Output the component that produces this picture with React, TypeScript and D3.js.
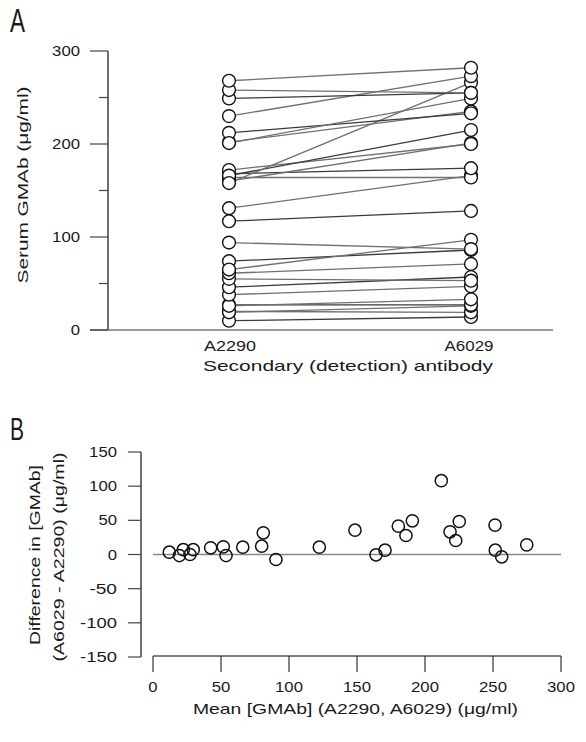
import React from "react";
import * as d3 from "d3";

// Panel A: paired serum GMAb values (µg/ml) measured with two secondary antibodies
const subjects = d3.range(27);
const a2290 = [10, 20, 19, 27, 26, 38, 46, 55, 61, 74, 65, 94, 117, 131, 164, 168, 160, 172, 166, 158, 202, 212, 201, 230, 249, 258, 268];
const a6029 = [14, 19, 26, 27, 33, 47, 57, 53, 71, 86, 97, 87, 128, 166, 164, 174, 201, 200, 215, 266, 235, 233, 249, 273, 255, 255, 282];
const groupLabels = ["A2290", "A6029"];
const yTicksA = [0, 100, 200, 300];
const yMinorA = [50, 150, 250];

// Panel B: Bland-Altman style (mean vs difference)
const meanB = [12, 19.4, 22.3, 27.2, 29.6, 42.4, 51.7, 53.7, 66, 79.9, 81.1, 90.4, 122.3, 148.5, 164, 170.6, 180.4, 186, 190.7, 212, 218.4, 222.6, 225.2, 251.5, 251.7, 256.4, 274.8];
const diffB = [3.4, -1.5, 7, 0, 7, 9.8, 11.2, -1.5, 10.7, 12.2, 31.7, -7.3, 10.7, 35.6, -0.5, 6.3, 41.5, 27.8, 49.3, 108, 33.2, 20.5, 48.3, 43, 6.3, -3.4, 14.1];
const yTicksB = [150, 100, 50, 0, -50, -100, -150];
const xTicksB = [0, 50, 100, 150, 200, 250, 300];

const FONT = "'Liberation Sans', Arial, sans-serif";

const labelWidth = (s: string) =>
  s.split("").reduce((acc, c) => acc + (c === "-" ? 9 : 9.3), 0);

function HText(props: { x: number; y: number; len: number; anchor?: "start" | "middle" | "end"; size?: number; children: string; fill?: string }) {
  const { x, y, len, anchor = "start", size = 14, children, fill = "#1a1a1a" } = props;
  const x0 = anchor === "middle" ? x - len / 2 : anchor === "end" ? x - len : x;
  return (
    <text x={x0} y={y} textLength={len} lengthAdjust="spacingAndGlyphs" fontSize={size} fontFamily={FONT} fill={fill}>
      {children}
    </text>
  );
}

function VText(props: { cx: number; cy: number; len: number; size?: number; children: string }) {
  const { cx, cy, len, size = 14, children } = props;
  return (
    <text
      transform={`translate(${cx},${cy}) rotate(-90)`}
      x={-len / 2}
      y={0}
      dominantBaseline="central"
      textLength={len}
      lengthAdjust="spacingAndGlyphs"
      fontSize={size}
      fontFamily={FONT}
      fill="#1a1a1a"
    >
      {children}
    </text>
  );
}

export default function App() {
  // Panel A scales
  const yA = d3.scaleLinear().domain([0, 300]).range([330, 51]);
  const xA = d3.scalePoint<string>().domain(groupLabels).range([229, 471]);
  const axisXA = 108;

  // Panel B scales
  const xB = d3.scaleLinear().domain([0, 300]).range([153, 561]);
  const yB = d3.scaleLinear().domain([-150, 150]).range([657, 452]);
  const axisXB = 141;
  const axisYB = 656;

  const pairs = subjects.map((i) => ({ l: a2290[i], r: a6029[i] }));
  const pts = subjects.map((i) => ({ m: meanB[i], d: diffB[i] }));

  const lineGen = d3
    .line<[number, number]>()
    .x((d) => d[0])
    .y((d) => d[1]);

  return (
    <svg width={586} height={742} style={{ position: "absolute", left: 0, top: 0, background: "#fff" }}>
      <rect width={586} height={742} fill="#fff" />

      {/* Panel letters */}
      <HText x={10} y={32} len={15} size={33}>A</HText>
      <HText x={10} y={440} len={14} size={31}>B</HText>

      {/* ===== Panel A ===== */}
      <line x1={axisXA} x2={axisXA} y1={yA(300)} y2={yA(0)} stroke="#222" strokeWidth={1.3} />
      <line x1={90} x2={553} y1={yA(0)} y2={yA(0)} stroke="#777" strokeWidth={1.3} />
      {yTicksA.map((t) => (
        <g key={"ta" + t}>
          <line x1={90} x2={axisXA} y1={yA(t)} y2={yA(t)} stroke="#444" strokeWidth={1.2} />
          <HText x={80} y={yA(t) + 5} len={labelWidth(String(t))} anchor="end">{String(t)}</HText>
        </g>
      ))}
      {yMinorA.map((t) => (
        <line key={"tm" + t} x1={99} x2={axisXA} y1={yA(t)} y2={yA(t)} stroke="#444" strokeWidth={1.2} />
      ))}
      <VText cx={23} cy={185} len={197}>Serum GMAb (μg/ml)</VText>

      {pairs.map((p, i) => (
        <path
          key={"pl" + i}
          d={lineGen([
            [xA("A2290")!, yA(p.l)],
            [xA("A6029")!, yA(p.r)],
          ]) || ""}
          stroke={i % 3 === 0 ? "#3a3a3a" : "#707070"}
          strokeWidth={1.3}
          fill="none"
        />
      ))}
      {pairs.map((p, i) => (
        <g key={"pc" + i}>
          <circle cx={xA("A2290")!} cy={yA(p.l)} r={6.4} fill="#fff" stroke="#111" strokeWidth={1.4} />
          <circle cx={xA("A6029")!} cy={yA(p.r)} r={6.4} fill="#fff" stroke="#111" strokeWidth={1.4} />
        </g>
      ))}

      <HText x={230} y={351} len={52} anchor="middle">A2290</HText>
      <HText x={469} y={351} len={49} anchor="middle">A6029</HText>
      <HText x={348} y={371} len={290} anchor="middle" size={14.5}>Secondary (detection) antibody</HText>

      {/* ===== Panel B ===== */}
      <line x1={axisXB} x2={axisXB} y1={yB(150)} y2={yB(-150)} stroke="#222" strokeWidth={1.3} />
      {yTicksB.map((t) => (
        <g key={"tb" + t}>
          <line x1={128} x2={axisXB} y1={yB(t)} y2={yB(t)} stroke="#444" strokeWidth={1.2} />
          <HText x={117} y={yB(t) + 5} len={labelWidth(String(t))} anchor="end">{String(t)}</HText>
        </g>
      ))}
      <line x1={xB(0)} x2={xB(300)} y1={yB(0)} y2={yB(0)} stroke="#888" strokeWidth={1.3} />

      <line x1={xB(0)} x2={xB(300)} y1={axisYB} y2={axisYB} stroke="#555" strokeWidth={1.3} />
      {xTicksB.map((t) => (
        <g key={"xb" + t}>
          <line x1={xB(t)} x2={xB(t)} y1={axisYB} y2={axisYB + 16} stroke="#333" strokeWidth={1.2} />
          <HText x={xB(t)} y={692} len={labelWidth(String(t))} anchor="middle">{String(t)}</HText>
        </g>
      ))}

      {pts.map((p, i) => (
        <circle key={"bp" + i} cx={xB(p.m)} cy={yB(p.d)} r={6.1} fill="none" stroke="#111" strokeWidth={1.5} />
      ))}

      <VText cx={35} cy={555} len={180}>Difference in [GMAb]</VText>
      <VText cx={59} cy={557} len={209}>(A6029 - A2290) (μg/ml)</VText>
      <HText x={355.5} y={714} len={325} anchor="middle" size={14.5}>Mean [GMAb] (A2290, A6029) (μg/ml)</HText>
    </svg>
  );
}
